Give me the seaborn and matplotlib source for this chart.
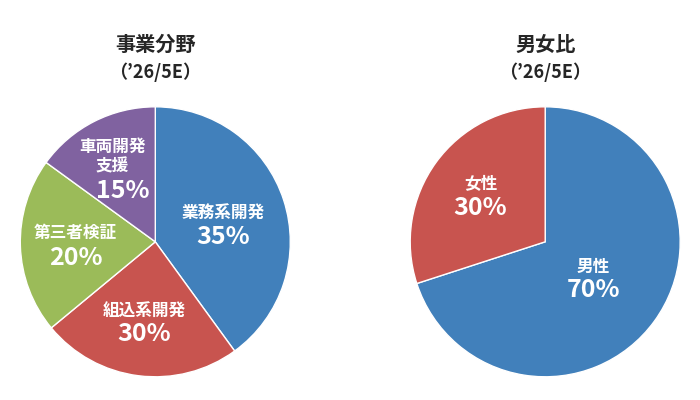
import matplotlib
matplotlib.use("Agg")
import matplotlib.pyplot as plt
import seaborn as sns

# data
field_title = "事業分野"
field_names = ["業務系開発", "組込系開発", "第三者検証", "車両開発\n支援"]
field_labels = ["35%", "30%", "20%", "15%"]
field_sizes = [40, 24, 21, 15]   # wedge sizes as drawn
field_colors = ["#4180BB", "#C8544F", "#9BBB59", "#8062A0"]

gender_title = "男女比"
gender_names = ["男性", "女性"]
gender_labels = ["70%", "30%"]
gender_sizes = [70, 30]
gender_colors = ["#4180BB", "#C8544F"]

subtitle = "（’26/5E）"

sns.set_theme(style="white")
plt.rcParams["font.family"] = ["Noto Sans CJK JP", "DejaVu Sans"]

fig = plt.figure(figsize=(7, 4), dpi=100)
ax1 = fig.add_axes([0.029, 0.058, 0.3857, 0.675])
ax2 = fig.add_axes([0.586, 0.058, 0.3857, 0.675])


def draw_pie(ax, sizes, colors, title, names, labels, name_pos, label_pos):
    ax.pie(sizes, colors=colors, startangle=90, counterclock=False,
           wedgeprops=dict(edgecolor="white", linewidth=1))
    ax.set_xlim(-1, 1)
    ax.set_ylim(-1, 1)
    ax.set_aspect("equal")
    ax.axis("off")
    ax.text(0, 1.464, title, ha="center", va="center", fontsize=14.5,
            fontweight="bold", clip_on=False)
    ax.text(0, 1.257, subtitle, ha="center", va="center", fontsize=13,
            fontweight="bold", clip_on=False)
    for n, l, (nx, ny), (lx, ly) in zip(names, labels, name_pos, label_pos):
        ax.text(nx, ny, n, ha="center", va="center", color="white",
                fontsize=12, fontweight="bold", linespacing=1.15)
        ax.text(lx, ly, l, ha="center", va="center", color="white",
                fontsize=18, fontweight="bold")


draw_pie(ax1, field_sizes, field_colors, field_title, field_names, field_labels,
         [(0.50, 0.21), (-0.084, -0.52), (-0.59, 0.065), (-0.32, 0.63)],
         [(0.50, 0.035), (-0.084, -0.68), (-0.59, -0.12), (-0.24, 0.38)])
draw_pie(ax2, gender_sizes, gender_colors, gender_title, gender_names, gender_labels,
         [(0.356, -0.185), (-0.48, 0.43)],
         [(0.356, -0.36), (-0.48, 0.25)])

fig.savefig("out.png", dpi=100)
